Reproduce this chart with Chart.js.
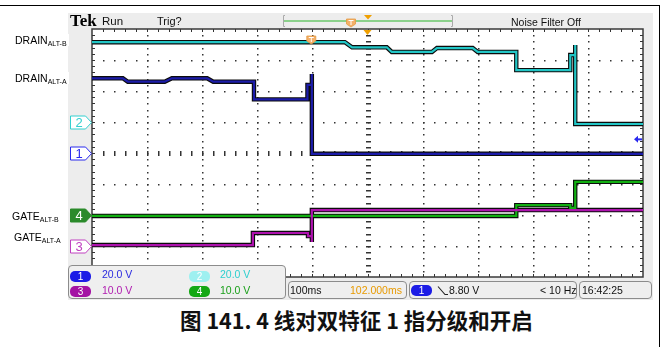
<!DOCTYPE html>
<html>
<head>
<meta charset="utf-8">
<title>4 线对双特征 1 指分级和开启</title>
<script src="https://cdn.jsdelivr.net/npm/chart.js@4.4.1/dist/chart.umd.min.js"></script>
<style>
  html, body { margin: 0; padding: 0; background: #fff; }
  body { position: relative; width: 666px; height: 347px; overflow: hidden;
         font-family: "Liberation Sans", Arial, sans-serif; }
  .a { position: absolute; white-space: nowrap; }
  #frameTop { left: 0; top: 5px; width: 660px; height: 1px; background: #000; }
  #frameRight { left: 659px; top: 5px; width: 1px; height: 342px; background: #000; }
  #panel { left: 68px; top: 13px; width: 585px; height: 287px; background: #ededed; }
  #scope { position: absolute; left: 0; top: 0; z-index: 1; }
  .ov { z-index: 2; }
  .hdr { font-size: 11px; line-height: 12px; color: #111; }
  .lbl { font-size: 10.5px; line-height: 12px; color: #000; background: #fff; padding-right: 2px; }
  .lbl sub { font-size: 7px; vertical-align: -2px; line-height: 0; }
  .box { background: #efefef; border: 1px solid #8c8c8c; border-radius: 4px; box-sizing: border-box; z-index: 2; }
  .pill { width: 21px; height: 11px; border-radius: 5px; color: #fff; font-size: 10px;
          line-height: 11px; text-align: center; z-index: 3; }
  .st { font-size: 10.5px; line-height: 12px; z-index: 3; }
  #caption { left: 180px; top: 308px; font-family: "Noto Sans CJK SC", sans-serif; font-weight: bold;
             font-size: 21.5px; line-height: 24px; color: #111; }
</style>
</head>
<body>
<div class="a" id="frameTop"></div>
<div class="a" id="frameRight"></div>
<div class="a" id="panel"></div>

<canvas id="scope" width="666" height="347"></canvas>

<!-- header strip -->
<div class="a ov" style="left:70px;top:12px;font:bold 17px/17px 'Liberation Serif',serif;">Tek</div>
<div class="a ov hdr" style="left:102px;top:15px;font-size:11.5px;">Run</div>
<div class="a ov hdr" style="left:157px;top:15px;">Trig?</div>
<div class="a ov hdr" style="left:511px;top:16px;font-size:10.5px;">Noise Filter Off</div>
<svg class="a ov" style="left:0;top:0" width="666" height="30">
  <path d="M285 15.5 H283.5 V26.5 H285 M451 15.5 H452.5 V26.5 H451" stroke="#aaa" fill="none"/>
  <line x1="284" y1="21" x2="452" y2="21" stroke="#2db52d" stroke-width="1.2"/>
  <path d="M346.5 19 H355.5 V24 L351 27 L346.5 24 Z" fill="#f4b06a" stroke="#e59a40" stroke-width="0.8"/>
  <path d="M348.5 20.5 H353.5 M351 20.5 V25" stroke="#fff" stroke-width="1"/>
  <path d="M364 15 H372 L368 19.5 Z" fill="#f0a000"/>
</svg>

<!-- signal names -->
<div class="a ov lbl" style="left:15px;top:34px;">DRAIN<sub>ALT-B</sub></div>
<div class="a ov lbl" style="left:15px;top:72px;">DRAIN<sub>ALT-A</sub></div>
<div class="a ov lbl" style="left:12px;top:210px;">GATE<sub>ALT-B</sub></div>
<div class="a ov lbl" style="left:14px;top:231px;">GATE<sub>ALT-A</sub></div>

<!-- channel settings -->
<div class="a box" style="left:68px;top:265px;width:218px;height:34px;"></div>
<div class="a pill" style="left:70px;top:271px;background:#1c1ce6;">1</div>
<div class="a st" style="left:102px;top:268px;color:#2a2ae0;">20.0 V</div>
<div class="a pill" style="left:189px;top:271px;background:#9ef0f0;">2</div>
<div class="a st" style="left:220px;top:268px;color:#2fcfcf;">20.0 V</div>
<div class="a pill" style="left:70px;top:286px;background:#a412a4;">3</div>
<div class="a st" style="left:102px;top:284px;color:#b01cb0;">10.0 V</div>
<div class="a pill" style="left:189px;top:286px;background:#14a814;">4</div>
<div class="a st" style="left:220px;top:284px;color:#1aa01a;">10.0 V</div>

<!-- timebase / trigger / clock -->
<div class="a box" style="left:288px;top:281px;width:119px;height:18px;"></div>
<div class="a st" style="left:290px;top:284px;color:#111;">100ms</div>
<div class="a st" style="left:350px;top:284px;color:#e89a00;">102.000ms</div>
<div class="a box" style="left:409px;top:281px;width:168px;height:18px;"></div>
<div class="a pill" style="left:411px;top:285px;background:#1c1ce6;">1</div>
<svg class="a" style="left:437px;top:285px;z-index:3" width="12" height="11">
  <path d="M1 1.5 L8 9.5 H11" stroke="#222" stroke-width="1.1" fill="none"/>
</svg>
<div class="a st" style="left:449px;top:284px;color:#111;">8.80 V</div>
<div class="a st" style="left:540px;top:284px;color:#111;">&lt; 10 Hz</div>
<div class="a box" style="left:579px;top:281px;width:73px;height:18px;"></div>
<div class="a st" style="left:582px;top:284px;color:#111;">16:42:25</div>

<div class="a" id="caption">图 141. 4 线对双特征 1 指分级和开启</div>

<script>
// 100 ms/div, 10 divisions; trigger at t = 0, screen centre at 102 ms
const timeSpan = [-398, 602];
const divisions = { x: 10, y: 8 };

// channel 1: DRAIN ALT-A, volts
const ch1Time = [-398, -342, -333, -266, -253, -189, -178, -104, -104, -7, -7, 1, 1, 1, 602];
const ch1Volt = [48.2, 48.2, 46.0, 46.0, 48.2, 48.2, 46.0, 46.0, 34.6, 34.6, 43.9, 43.9, 51.0, -0.5, -0.5];

// channel 2: DRAIN ALT-B
const ch2Time = [-398, 61, 74, 137, 146, 219, 228, 293, 302, 372, 372, 470, 470, 479, 479, 479, 602];
const ch2Volt = [51.5, 51.5, 48.2, 48.2, 45.2, 45.2, 47.7, 47.7, 45.2, 45.2, 33.5, 33.5, 43.2, 43.2, 49.7, -1.3, -1.3];

// channel 3: GATE ALT-A
const ch3Time = [-398, -106, -106, -6, -6, 1, 1, 1, 602];
const ch3Volt = [0.3, 0.3, 4.2, 4.2, 3.2, 3.2, 1.3, 11.6, 11.6];

// channel 4: GATE ALT-B
const ch4Time = [-398, 372, 372, 470, 470, 479, 479, 602];
const ch4Volt = [-0.3, -0.3, 3.2, 3.2, 2.3, 2.3, 10.7, 10.7];

const channelScale = [20, 20, 10, 10];     // V/div
const channelPos = [0, 1, -3, -2];         // ground marker, divisions from centre
const channelColor = ['#1c1caa', '#22c6c6', '#ae12ae', '#12b012'];
const markerColor = ['#2a2aee', '#33d0d0', '#c040c0', '#2b8a2b'];
const markerFilled = [false, false, false, true];
const triggerLevel = 8.8;                   // V on channel 1

const traces = [[ch1Time, ch1Volt], [ch2Time, ch2Volt], [ch3Time, ch3Volt], [ch4Time, ch4Volt]];

function toDiv(ch, v) {
  return channelPos[ch] + v / channelScale[ch];
}

const datasets = [];
traces.forEach(([t, v], ch) => {
  const pts = t.map((tt, i) => ({ x: tt, y: toDiv(ch, v[i]) }));
  datasets.push({ data: pts, borderColor: '#0c0c0c', borderWidth: 4.4, order: 2,
                  borderCapStyle: 'butt', borderJoinStyle: 'miter' });
  datasets.push({ data: pts, borderColor: channelColor[ch], borderWidth: 2.2, order: 1,
                  borderCapStyle: 'butt', borderJoinStyle: 'miter' });
});

// scope graticule: dotted divisions, ticked centre cross, ticked border
const graticule = {
  id: 'graticule',
  beforeDatasetsDraw(chart) {
    const { ctx, chartArea: a, scales: { x, y } } = chart;
    const xs = (timeSpan[1] - timeSpan[0]) / divisions.x;
    ctx.save();
    ctx.fillStyle = '#fff';
    ctx.fillRect(a.left, a.top, a.right - a.left, a.bottom - a.top);

    ctx.fillStyle = '#333';
    for (let d = 1; d < divisions.x; d++) {
      const px = Math.round(x.getPixelForValue(timeSpan[0] + d * xs));
      for (let m = 1; m < divisions.y * 5; m++) {
        const py = Math.round(y.getPixelForValue(4 - m * 0.2));
        if (d === 5) ctx.fillRect(px - 2, py, 5, 1.5);
        else ctx.fillRect(px, py, 1.5, 1.5);
      }
    }
    for (let d = 1; d < divisions.y; d++) {
      const py = Math.round(y.getPixelForValue(4 - d));
      for (let m = 1; m < divisions.x * 5; m++) {
        const px = Math.round(x.getPixelForValue(timeSpan[0] + m * xs / 5));
        if (d === 4) ctx.fillRect(px, py - 2, 1.5, 5);
        else ctx.fillRect(px, py, 1.5, 1.5);
      }
    }

    // border ticks
    for (let m = 1; m < divisions.x * 5; m++) {
      const px = Math.round(x.getPixelForValue(timeSpan[0] + m * xs / 5));
      ctx.fillRect(px, a.top, 1, 3);
      ctx.fillRect(px, a.bottom - 3, 1, 3);
    }
    for (let m = 1; m < divisions.y * 5; m++) {
      const py = Math.round(y.getPixelForValue(4 - m * 0.2));
      ctx.fillRect(a.left, py, 3, 1);
      ctx.fillRect(a.right - 3, py, 3, 1);
    }
    ctx.strokeStyle = '#3a3a3a';
    ctx.lineWidth = 1.5;
    ctx.strokeRect(a.left, a.top, a.right - a.left, a.bottom - a.top);
    ctx.restore();
  }
};

// ground markers, trigger level arrow, trigger and expansion points
const scopeMarks = {
  id: 'scopeMarks',
  afterDatasetsDraw(chart) {
    const { ctx, chartArea: a, scales: { x, y } } = chart;
    ctx.save();
    ctx.font = '13px "Liberation Sans", Arial, sans-serif';
    ctx.textAlign = 'center';
    ctx.textBaseline = 'middle';
    channelPos.forEach((pos, ch) => {
      const cy = Math.round(y.getPixelForValue(pos)) + 0.5;
      const x0 = a.left - 21.5, x1 = a.left - 0.5;
      ctx.beginPath();
      ctx.moveTo(x0, cy - 6.5);
      ctx.lineTo(x1 - 6, cy - 6.5);
      ctx.lineTo(x1, cy);
      ctx.lineTo(x1 - 6, cy + 6.5);
      ctx.lineTo(x0, cy + 6.5);
      ctx.closePath();
      ctx.fillStyle = markerFilled[ch] ? markerColor[ch] : '#fff';
      ctx.fill();
      ctx.strokeStyle = markerColor[ch];
      ctx.lineWidth = 1;
      ctx.stroke();
      ctx.fillStyle = markerFilled[ch] ? '#fff' : markerColor[ch];
      ctx.fillText(String(ch + 1), x0 + 8.5, cy + 0.5);
    });

    // trigger level on channel 1
    const ty = y.getPixelForValue(toDiv(0, triggerLevel));
    const tx = a.right - 9;
    ctx.fillStyle = '#2a2aee';
    ctx.beginPath();
    ctx.moveTo(tx, ty);
    ctx.lineTo(tx + 4, ty - 3.5);
    ctx.lineTo(tx + 4, ty + 3.5);
    ctx.closePath();
    ctx.fill();
    ctx.fillRect(tx + 3, ty - 1, 5, 2);

    // trigger position
    const px = x.getPixelForValue(0);
    const top = a.top + 7;
    ctx.beginPath();
    ctx.moveTo(px - 4.5, top);
    ctx.lineTo(px + 4.5, top);
    ctx.lineTo(px + 4.5, top + 5);
    ctx.lineTo(px, top + 8);
    ctx.lineTo(px - 4.5, top + 5);
    ctx.closePath();
    ctx.fillStyle = '#f4b06a';
    ctx.fill();
    ctx.strokeStyle = '#e59a40';
    ctx.lineWidth = 0.8;
    ctx.stroke();
    ctx.strokeStyle = '#fff';
    ctx.lineWidth = 1;
    ctx.beginPath();
    ctx.moveTo(px - 2.5, top + 1.5);
    ctx.lineTo(px + 2.5, top + 1.5);
    ctx.moveTo(px, top + 1.5);
    ctx.lineTo(px, top + 6);
    ctx.stroke();

    // expansion point at screen centre
    const cx = x.getPixelForValue((timeSpan[0] + timeSpan[1]) / 2);
    ctx.fillStyle = '#f0a000';
    ctx.beginPath();
    ctx.moveTo(cx - 4, a.top + 1);
    ctx.lineTo(cx + 4, a.top + 1);
    ctx.lineTo(cx, a.top + 6);
    ctx.closePath();
    ctx.fill();
    ctx.restore();
  }
};

new Chart(document.getElementById('scope'), {
  type: 'line',
  data: { datasets: datasets },
  options: {
    responsive: false,
    animation: false,
    devicePixelRatio: 1,
    layout: { padding: { left: 92, right: 23, top: 29, bottom: 70 } },
    plugins: { legend: { display: false }, tooltip: { enabled: false } },
    elements: { point: { radius: 0 }, line: { tension: 0 } },
    scales: {
      x: { type: 'linear', min: timeSpan[0], max: timeSpan[1], display: false },
      y: { min: -divisions.y / 2, max: divisions.y / 2, display: false }
    }
  },
  plugins: [graticule, scopeMarks]
});
</script>
</body>
</html>
